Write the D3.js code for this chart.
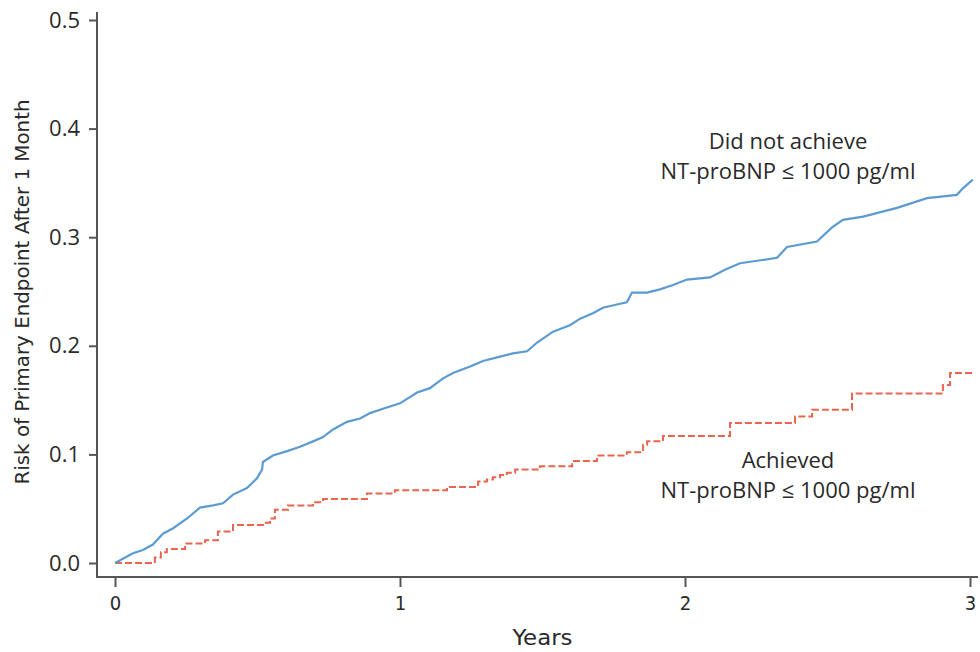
<!DOCTYPE html>
<html>
<head>
  <title>Risk of Primary Endpoint</title>
  <script src="https://d3js.org/d3.v7.min.js"></script>
  <style>
    body { margin: 0; background: #fff; }
    .narrow { font-family: "Liberation Sans Narrow", "DejaVu Sans Condensed", "Arial Narrow", sans-serif; }
    .wide { font-family: "Open Sans", "Noto Sans", sans-serif; }
  </style>
</head>
<body>
<div id="chart"></div>
<script>
// Did not achieve NT-proBNP <= 1000 pg/ml (years, cumulative risk)
var notAchievedYears = [0, 0.063, 0.098, 0.133, 0.168, 0.204, 0.253, 0.298, 0.344, 0.379, 0.414, 0.463, 0.498, 0.516, 0.519,
  0.554, 0.604, 0.649, 0.695, 0.730, 0.765, 0.814, 0.860, 0.895, 0.940, 1.0, 1.060, 1.105, 1.151, 1.186, 1.246, 1.291,
  1.351, 1.396, 1.446, 1.481, 1.537, 1.596, 1.632, 1.677, 1.712, 1.761, 1.796, 1.814, 1.867, 1.912, 1.958, 2.007, 2.088,
  2.14, 2.193, 2.323, 2.358, 2.463, 2.516, 2.554, 2.625, 2.744, 2.849, 2.954, 2.975, 3.01];
var notAchievedRisk = [0, 0.009, 0.012, 0.017, 0.027, 0.032, 0.041, 0.051, 0.053, 0.055, 0.063, 0.069, 0.078, 0.086, 0.093,
  0.099, 0.103, 0.107, 0.112, 0.116, 0.123, 0.130, 0.133, 0.138, 0.142, 0.147, 0.157, 0.161, 0.170, 0.175, 0.181, 0.186,
  0.190, 0.193, 0.195, 0.203, 0.213, 0.219, 0.225, 0.230, 0.235, 0.238, 0.240, 0.249, 0.249, 0.252, 0.256, 0.261, 0.263,
  0.270, 0.276, 0.281, 0.291, 0.296, 0.309, 0.316, 0.319, 0.327, 0.336, 0.339, 0.345, 0.353];

// Achieved NT-proBNP <= 1000 pg/ml
var achievedYears = [0, 0.14, 0.161, 0.182, 0.246, 0.316, 0.361, 0.414, 0.519, 0.544, 0.561, 0.607, 0.695, 0.73, 0.884,
  0.982, 1.165, 1.274, 1.305, 1.326, 1.351, 1.375, 1.404, 1.491, 1.604, 1.691, 1.796, 1.853, 1.867, 1.923, 2.158, 2.386,
  2.446, 2.586, 2.905, 2.93, 3.01];
var achievedRisk = [0, 0.005, 0.010, 0.013, 0.018, 0.021, 0.029, 0.035, 0.037, 0.041, 0.049, 0.053, 0.056, 0.059, 0.064,
  0.067, 0.070, 0.075, 0.077, 0.079, 0.081, 0.083, 0.086, 0.089, 0.094, 0.099, 0.102, 0.109, 0.112, 0.117, 0.129, 0.135,
  0.141, 0.156, 0.164, 0.175, 0.175];

var xTicks = [0, 1, 2, 3];
var yTicks = [0, 0.1, 0.2, 0.3, 0.4, 0.5];

var width = 980, height = 652;
var box = { left: 97, right: 978, top: 12, bottom: 577 };

var svg = d3.select("#chart").append("svg")
  .attr("width", width)
  .attr("height", height);

var x = d3.scaleLinear().domain([0, 3]).range([115, 970]);
var y = d3.scaleLinear().domain([0, 0.5]).range([563, 20]);

// axes (L shaped box like base R)
var yAxis = svg.append("g")
  .attr("transform", "translate(" + box.left + ",0)")
  .call(d3.axisLeft(y).tickValues(yTicks).tickSize(8).tickPadding(9).tickFormat(d3.format(".1f")));
yAxis.select(".domain").remove();
yAxis.selectAll("line").attr("stroke", "#555").attr("stroke-width", 2);
yAxis.selectAll("text").attr("class", "wide").style("font-size", "22px").attr("fill", "#2a2a2a");

var xAxis = svg.append("g")
  .attr("transform", "translate(0," + box.bottom + ")")
  .call(d3.axisBottom(x).tickValues(xTicks).tickSize(10).tickPadding(9).tickFormat(d3.format("d")));
xAxis.select(".domain").remove();
xAxis.selectAll("line").attr("stroke", "#555").attr("stroke-width", 2);
xAxis.selectAll("text").attr("class", "narrow").style("font-size", "20px").attr("fill", "#2a2a2a");

svg.append("path")
  .attr("d", "M" + box.left + "," + box.top + "V" + box.bottom + "H" + box.right)
  .attr("fill", "none")
  .attr("stroke", "#555")
  .attr("stroke-width", 2);

// lines
var notAchieved = notAchievedYears.map(function(t, i) { return [t, notAchievedRisk[i]]; });
var achieved = achievedYears.map(function(t, i) { return [t, achievedRisk[i]]; });

var stepLine = d3.line()
  .x(function(d) { return x(d[0]); })
  .y(function(d) { return y(d[1]); })
  .curve(d3.curveStepAfter);

var plainLine = d3.line()
  .x(function(d) { return x(d[0]); })
  .y(function(d) { return y(d[1]); });

svg.append("path")
  .datum(achieved)
  .attr("fill", "none")
  .attr("stroke", "#e8664f")
  .attr("stroke-width", 2)
  .attr("stroke-dasharray", "7,3")
  .attr("d", stepLine);

svg.append("path")
  .datum(notAchieved)
  .attr("fill", "none")
  .attr("stroke", "#5b9bd1")
  .attr("stroke-width", 2.2)
  .attr("d", plainLine);

// labels
svg.append("text")
  .attr("class", "narrow")
  .attr("x", x(1.5))
  .attr("y", 645)
  .attr("text-anchor", "middle")
  .attr("textLength", 60)
  .attr("lengthAdjust", "spacingAndGlyphs")
  .style("font-size", "21px")
  .attr("fill", "#2a2a2a")
  .text("Years");

svg.append("text")
  .attr("class", "narrow")
  .attr("transform", "translate(29,292) rotate(-90)")
  .attr("text-anchor", "middle")
  .attr("textLength", 385)
  .attr("lengthAdjust", "spacingAndGlyphs")
  .style("font-size", "20px")
  .attr("fill", "#2a2a2a")
  .text("Risk of Primary Endpoint After 1 Month");

var notes = [
  { lines: ["Did not achieve", "NT-proBNP \u2264 1000 pg/ml"], y: 149 },
  { lines: ["Achieved", "NT-proBNP \u2264 1000 pg/ml"], y: 468 }
];
notes.forEach(function(n) {
  n.lines.forEach(function(s, i) {
    svg.append("text")
      .attr("class", "wide")
      .attr("x", 788)
      .attr("y", n.y + i * 30)
      .attr("text-anchor", "middle")
      .style("font-size", "22px")
      .attr("fill", "#2a2a2a")
      .text(s);
  });
});
</script>
</body>
</html>
